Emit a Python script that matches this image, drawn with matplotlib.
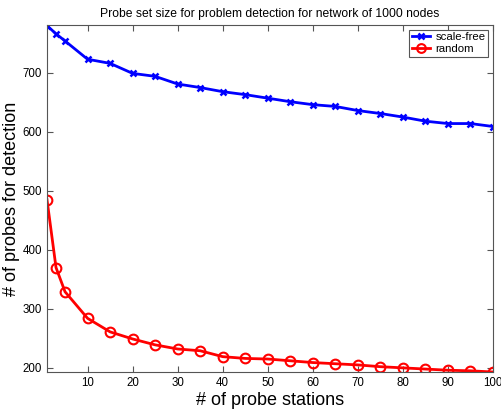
import matplotlib
matplotlib.use("Agg")
import matplotlib.pyplot as plt

plt.rcParams['font.family'] = ['Liberation Sans', 'DejaVu Sans']

# number of probe stations
stations = [1, 3, 5, 10, 15, 20, 25, 30, 35, 40, 45, 50, 55, 60, 65, 70, 75, 80, 85, 90, 95, 100]

# probe set sizes
scale_free = [780, 766, 754, 723, 716, 699, 694, 681, 675, 668, 663, 657, 651, 646, 643,
              636, 631, 625, 618, 614, 614, 609]
random_net = [485, 370, 329, 284, 261, 249, 239, 232, 229, 219, 216, 215, 212, 209, 207,
              205, 202, 200, 198, 196, 195, 193]

fig = plt.figure(figsize=(5.02, 4.09), dpi=100)
ax = fig.add_axes([47 / 502, 37 / 409, 446 / 502, 347 / 409])

ax.plot(stations, scale_free, color='#0000ff', lw=2, marker='x', ms=5, mew=1.8,
        label='scale-free')
ax.plot(stations, random_net, color='#ff0000', lw=2, marker='o', ms=7, mew=1.5,
        mfc='none', label='random')

ax.set_xlim(1, 100)
ax.set_ylim(193, 781)
ax.set_xticks(range(10, 101, 10))
ax.set_yticks(range(200, 701, 100))

for s in ax.spines.values():
    s.set_color('#555555')
    s.set_linewidth(0.8)
ax.tick_params(direction='in', top=True, right=True, length=4, width=0.8,
               colors='#555555', labelcolor='black', labelsize=8.3)

ax.set_title('Probe set size for problem detection for network of 1000 nodes',
             fontsize=8.7, pad=6)
ax.set_xlabel('# of probe stations', fontsize=13, labelpad=2)
ax.set_ylabel('# of probes for detection', fontsize=13, labelpad=2)

leg = ax.legend(loc='upper right', fontsize=8.2, fancybox=False, framealpha=1,
                borderpad=0.25, handlelength=1.6, handletextpad=0.5,
                labelspacing=0.15, borderaxespad=0.4, markerscale=0.9)
leg.get_frame().set_edgecolor('#555555')
leg.get_frame().set_linewidth(0.8)

fig.savefig('out.png', dpi=100)
